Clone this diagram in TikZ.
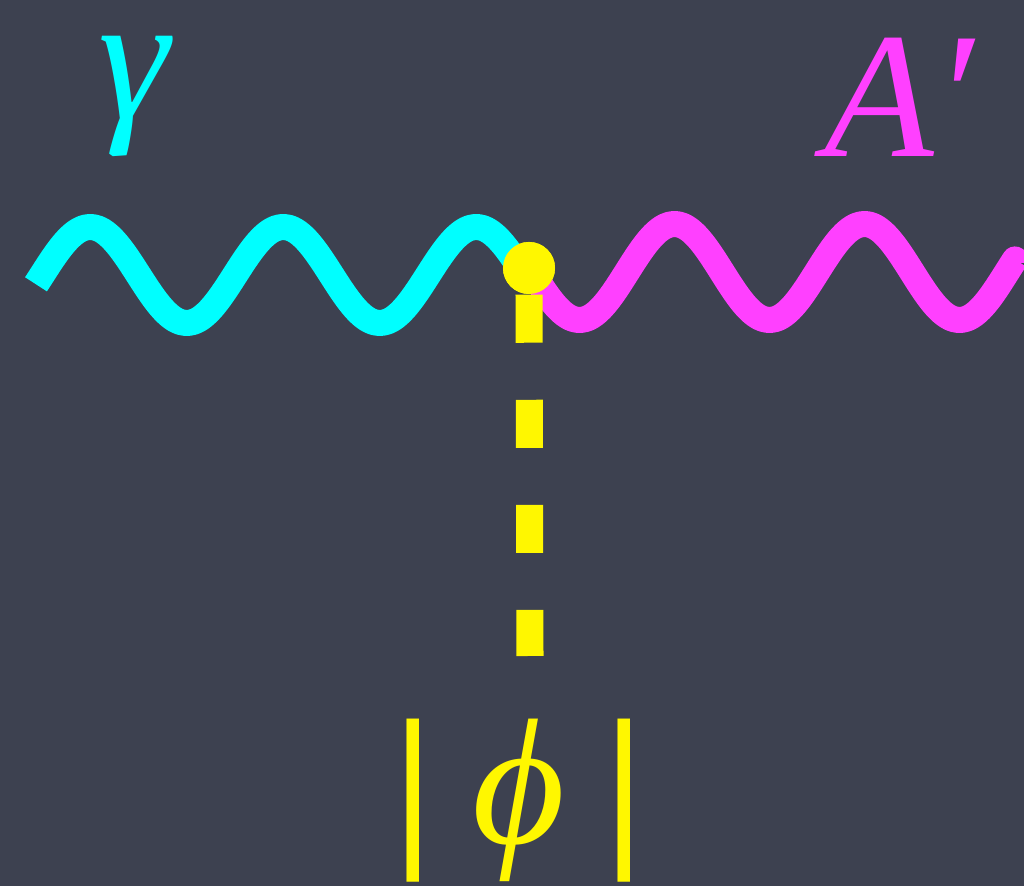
\documentclass[tikz,border=0pt]{standalone}
\usepackage{fontspec}
\newfontfamily\labelfont{Liberation Serif}
\usepackage{xcolor}
\usepackage{tikz}
\usetikzlibrary{positioning}
\definecolor{board}{RGB}{61,65,80}
\definecolor{photoncyan}{RGB}{0,255,255}
\definecolor{darkmagenta}{RGB}{255,64,255}
\definecolor{scalaryellow}{RGB}{255,247,0}
\tikzset{
  photonline/.style={draw=photoncyan,line width=0.26cm,line join=round},
  darkphotonline/.style={draw=darkmagenta,line width=0.26cm,line join=round},
  scalarline/.style={draw=scalaryellow,line width=0.27cm,dash pattern=on 0.48cm off 0.57cm},
  vertexdot/.style={circle,fill=scalaryellow,minimum size=0.52cm,inner sep=0pt},
  fieldlabel/.style={font=\labelfont\fontsize{51}{61}\selectfont,inner sep=6pt}
}
\begin{document}
\begin{tikzpicture}[x=0.01cm,y=-0.01cm]
  \fill[board] (0,0) rectangle (1024,886);
  \useasboundingbox (0,0) rectangle (1024,886);
  \coordinate (gstart) at (36,281);
  \coordinate (aend) at (1015,263);
  \coordinate (phiend) at (530,656);
  \node[vertexdot] (vertex) at (529,268) {};
  \draw[photonline] (gstart) plot[domain=36:528,samples=120,smooth] (\x,{275-48*sin((\x-42)/193*360)}) -- (vertex.center);
  \draw[darkphotonline] (vertex.center) -- plot[domain=532:1015,samples=120,smooth] (\x,{272+48*sin((\x-532)/190*360)}) -- (aend);
  \draw[scalarline] (vertex.south) -- (phiend);
  \node[vertexdot] at (vertex.center) {};
  \node[fieldlabel,text=photoncyan] (gamma) at (136,96) {\textit{γ}};
  \node[fieldlabel,text=darkmagenta] (aprime) at (900,97) {\textit{A′}};
  \node[fieldlabel,text=scalaryellow] (phi) at (519,801) {\textbf{|}\kern0.22em\textit{ϕ}\kern0.22em\textbf{|}};
\end{tikzpicture}
\end{document}
